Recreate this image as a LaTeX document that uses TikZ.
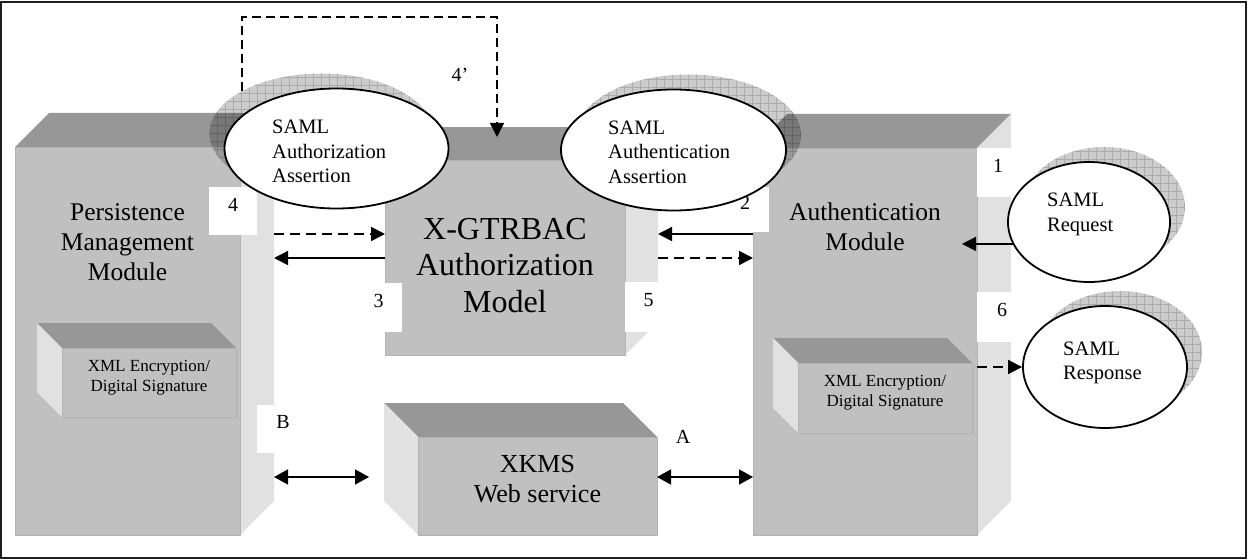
\documentclass[tikz,border=0pt]{standalone}
\usepackage{fontspec}
\setmainfont{Liberation Serif}
\usetikzlibrary{arrows.meta,shapes.geometric,fit,calc}

\definecolor{frontgray}{HTML}{C0C0C0}
\definecolor{topgray}{HTML}{979797}
\definecolor{sidegray}{HTML}{E1E1E1}
\definecolor{edgegray}{HTML}{B2B2B2}
\definecolor{framegray}{HTML}{1E1E1E}

\tikzset{
  front/.style={fill=frontgray, draw=edgegray, line width=0.8pt, inner sep=0pt, outer sep=0pt},
  bevel/.style={fill=topgray},
  flank/.style={fill=sidegray},
  span/.style={inner sep=0pt, outer sep=0pt},
  tag/.style={fill=white, inner sep=0pt, outer sep=0pt, font=\fontsize{20}{24}\selectfont},
  shade/.style={ellipse, inner sep=0pt, outer sep=0pt, fill=black, fill opacity=0.2,
    path picture={\draw[black, opacity=0.16, line width=0.6pt]
      (path picture bounding box.south west) grid[step=8pt] (path picture bounding box.north east);}},
  bubble/.style={ellipse, draw=black, line width=1.8pt, fill=white, inner sep=0pt},
  bubbletext/.style={align=left, inner sep=0pt, font=\fontsize{20.5}{24.5}\selectfont},
  modtext/.style={align=center, inner sep=0pt, font=\fontsize{25.5}{30}\selectfont},
  coretext/.style={align=center, inner sep=0pt, font=\fontsize{32}{36.5}\selectfont},
  servtext/.style={align=center, inner sep=0pt, font=\fontsize{26}{30}\selectfont},
  smalltext/.style={align=center, inner sep=0pt, font=\fontsize{17}{20}\selectfont},
  link/.style={line width=1.6pt, -{Triangle[length=14pt,width=14pt]}},
  twoway/.style={line width=1.6pt, {Triangle[length=14pt,width=15pt]}-{Triangle[length=14pt,width=15pt]}},
  dashlink/.style={link, dash pattern=on 10pt off 6pt},
}

% box seen from the lower left: top bevel and right flank
\newcommand\cubeR[6]{%
  \fill[bevel] (#2,#3) -- ++(#6,-#6) -- (#4+#6,#3-#6) -- (#4,#3) -- cycle;
  \fill[flank] (#4,#3) -- ++(#6,-#6) -- (#4+#6,#5-#6) -- (#4,#5) -- cycle;
  \node[front, fit={(#2,#3) (#4,#5)}] (#1-f) {};
  \node[span, fit={(#2,#3-#6) (#4+#6,#5)}] (#1) {};
}
% box seen from the lower right: top bevel and left flank
\newcommand\cubeL[6]{%
  \fill[bevel] (#2,#3) -- ++(-#6,-#6) -- (#4-#6,#3-#6) -- (#4,#3) -- cycle;
  \fill[flank] (#2,#3) -- ++(-#6,-#6) -- (#2-#6,#5-#6) -- (#2,#5) -- cycle;
  \node[front, fit={(#2,#3) (#4,#5)}] (#1-f) {};
  \node[span, fit={(#2-#6,#3-#6) (#4,#5)}] (#1) {};
}

\begin{document}
\begin{tikzpicture}[x=1pt, y=-1pt]
\useasboundingbox (0,0) rectangle (1249,559);
\draw[framegray, line width=2pt] (1,2) rectangle (1245.5,557.5);

% modules
\cubeR{pm}{15}{147}{240}{535}{34}
\cubeR{cm}{385}{160}{625}{355}{33}
\cubeR{am}{753}{148}{977}{535}{34}
\cubeL{xk}{418}{437}{657}{535}{34}
\cubeL{xl}{62}{348}{236}{417}{25}
\cubeL{xr}{798}{363}{972}{433}{25}

% step labels
\node[tag, fit={(209,187) (257,235)}] (t4) {4};
\node[tag, fit={(355,283) (402,332)}] (t3) {3};
\node[tag, fit={(625,282) (672,332)}] (t5) {5};
\node[tag, fit={(721,187) (769,232)}] (t2) {2};
\node[tag, fit={(977,148) (1019,197)}] (t1) {1};
\node[tag, fit={(977,292) (1027,342)}] (t6) {6};
\node[tag, fit={(257,405) (309,453)}] (tB) {B};
\node[tag] (tA) at (683,437) {A};
\node[tag] (t4p) at (460,75) {4’};

% SAML messages with their shadows
\node[shade, minimum width=224pt, minimum height=120pt] (azs) at (321.5,133.5) {};
\node[bubble, minimum width=224pt, minimum height=120pt] (az) at (336.5,148.5) {};
\node[shade, minimum width=225pt, minimum height=121pt] (ans) at (688.5,135) {};
\node[bubble, minimum width=225pt, minimum height=121pt] (an) at (673.5,150) {};
\node[shade, minimum width=162pt, minimum height=120pt] (reqs) at (1104,207) {};
\node[bubble, minimum width=162pt, minimum height=120pt] (req) at (1089,222) {};
\node[shade, minimum width=164pt, minimum height=122pt] (resps) at (1120,352) {};
\node[bubble, minimum width=164pt, minimum height=122pt] (resp) at (1105,367) {};

\node[bubbletext, anchor=west] (azt) at (272,151.5) {SAML\\Authorization\\Assertion};
\node[bubbletext, anchor=west] (ant) at (608,152) {SAML\\Authentication\\Assertion};
\node[bubbletext, anchor=west] (reqt) at (1047,214.5) {SAML\\Request};
\node[bubbletext, anchor=west] (respt) at (1063,363) {SAML\\Response};

% module captions
\node[modtext] (pmt) at (127.5,242.5) {Persistence\\Management\\Module};
\node[coretext] (cmt) at (505,265.5) {X-GTRBAC\\Authorization\\Model};
\node[modtext] (amt) at (865,226.5) {Authentication\\Module};
\node[servtext] (xkt) at (537.5,479.5) {XKMS\\Web service};
\node[smalltext] (xlt) at (149,377.7) {XML Encryption/\\Digital Signature};
\node[smalltext] (xrt) at (885,393) {XML Encryption/\\Digital Signature};

% message flow
\coordinate (upper) at (0,234);
\coordinate (lower) at (0,258);
\coordinate (keys) at (0,477);
\coordinate (loop) at (497,17);
\coordinate (loopend) at (497,137);

\draw[dashlink, dash pattern=on 9pt off 5pt] (azs.152.7) |- (loop) -- (loopend);
\draw[dashlink] (pm.east |- upper) -- (cm.west |- upper);
\draw[link] (cm.west |- lower) -- (pm.east |- lower);
\draw[link] (am.west |- upper) -- (cm.east |- upper);
\draw[dashlink] (cm.east |- lower) -- (am.west |- lower);
\draw[twoway, shorten >=15pt] (pm.east |- keys) -- (xk.west |- keys);
\draw[twoway] (xk.east |- keys) -- (am.west |- keys);
\draw[link, shorten >=-15pt] (req.196) -- (am-f.east |- req.196);
\draw[dashlink] (am-f.east |- resp.west) -- (resp.west);
\end{tikzpicture}
\end{document}
